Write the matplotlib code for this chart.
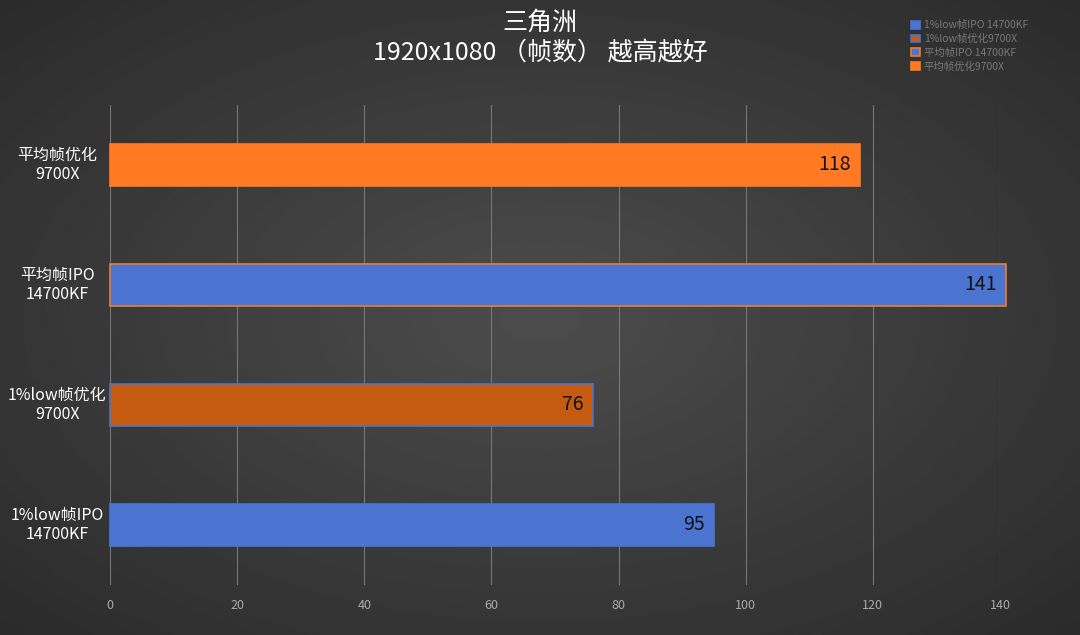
import numpy as np
import matplotlib
matplotlib.use("Agg")
import matplotlib.pyplot as plt
from matplotlib.patches import Patch

plt.rcParams["font.family"] = ["Noto Sans CJK SC", "DejaVu Sans"]

categories = ["1%low帧IPO\n14700KF", "1%low帧优化\n9700X", "平均帧IPO\n14700KF", "平均帧优化\n9700X"]
values = [95, 76, 141, 118]
legend_labels = ["1%low帧IPO 14700KF", "1%low帧优化9700X", "平均帧IPO 14700KF", "平均帧优化9700X"]
xticks = [0, 20, 40, 60, 80, 100, 120, 140]

faces = ["#4a74d0", "#c55a11", "#4a74d0", "#ff7a22"]
edges = ["#4a74d0", "#4a74d0", "#ed7d31", "#ff7a22"]

fig = plt.figure(figsize=(10.8, 6.35), dpi=100)

# radial gradient background
bg = fig.add_axes([0, 0, 1, 1])
yy, xx = np.mgrid[-1:1:300j, -1:1:500j]
r = np.sqrt(xx ** 2 + yy ** 2)
bg.imshow(0.30 - 0.13 * np.clip(r / 1.4, 0, 1), cmap="gray", vmin=0, vmax=1,
          aspect="auto", extent=[0, 1, 0, 1])
bg.axis("off")

ax = fig.add_axes([110 / 1080, 1 - 585 / 635, 890 / 1080, 480 / 635])
ax.patch.set_alpha(0)
y = np.arange(len(values))
bars = ax.barh(y, values, height=0.35, color=faces, edgecolor=edges, linewidth=1.2, zorder=3)
for b in bars:
    b.set_clip_on(False)
for yi, v in zip(y, values):
    ax.text(v - 1.5, yi, str(v), ha="right", va="center", fontsize=14, color="#111111", zorder=4)

ax.set_xlim(0, 140)
ax.set_ylim(-0.5, 3.5)
ax.set_xticks(xticks)
ax.set_xticklabels([str(t) for t in xticks], color="#aaaaaa", fontsize=9)
ax.set_yticks(y)
ax.set_yticklabels([])
ax.tick_params(length=0, pad=10)
ax.grid(axis="x", color="#777777", linewidth=0.8, zorder=0)
for s in ax.spines.values():
    s.set_visible(False)

for yi, lab in zip(y, categories):
    ax.text(-8.3, yi, lab, ha="center", va="center", fontsize=11.5, color="white",
            linespacing=1.1, clip_on=False)

fig.text(540 / 1080, 1 - 38 / 635, "三角洲\n1920x1080 （帧数） 越高越好", ha="center", va="center",
         color="white", fontsize=18, linespacing=1.2)

handles = [Patch(facecolor=f, edgecolor=e, linewidth=1.2) for f, e in zip(faces, edges)]
fig.legend(handles, legend_labels, loc="upper left", bbox_to_anchor=(906 / 1080, 1 - 15 / 635),
           frameon=False, fontsize=7.5, labelcolor="#777777", handlelength=0.8, handleheight=0.8,
           handletextpad=0.4, labelspacing=0.35, borderpad=0)

fig.savefig("out.png", dpi=100)
